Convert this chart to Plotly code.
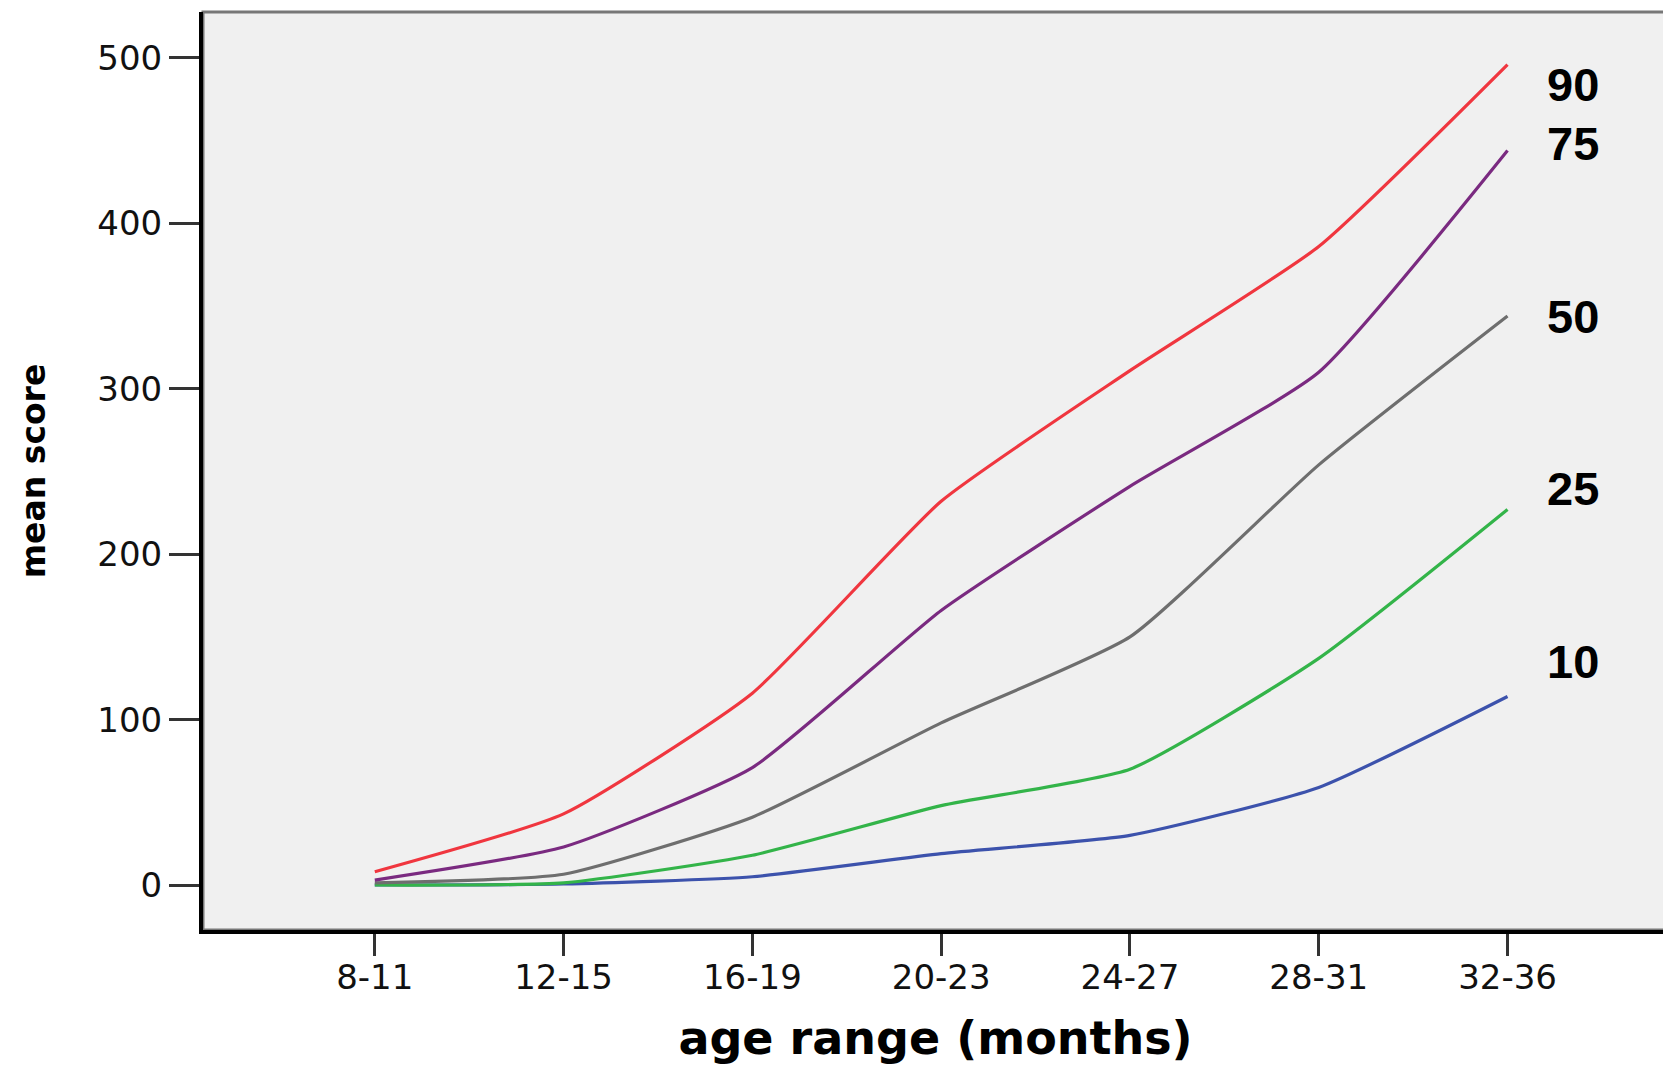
import plotly.graph_objects as go

age_ranges = ["8-11", "12-15", "16-19", "20-23", "24-27", "28-31", "32-36"]
percentiles = ["90", "75", "50", "25", "10"]
p90 = [8, 43, 116, 232, 311, 386, 496]
p75 = [3, 23, 71, 166, 241, 310, 444]
p50 = [1.3, 6.5, 41, 98, 150, 254, 344]
p25 = [0, 1.3, 18, 48, 70, 137, 227]
p10 = [0, 0.6, 5, 19, 30, 59, 114]
y_ticks = [0, 100, 200, 300, 400, 500]

series = [
    ("10", p10, "#3C52AC"),
    ("25", p25, "#33B449"),
    ("50", p50, "#6E6E6E"),
    ("75", p75, "#7A2A80"),
    ("90", p90, "#F0363F"),
]

fig = go.Figure()
for name, vals, color in series:
    fig.add_trace(go.Scatter(
        x=age_ranges, y=vals, mode="lines", name=name,
        line=dict(color=color, width=3.2, shape="spline", smoothing=0.5),
        showlegend=False, hoverinfo="skip",
    ))

# percentile labels at right end of lines
label_y = {"90": 484, "75": 448, "50": 344, "25": 240, "10": 135}
for name in percentiles:
    fig.add_annotation(
        x=0.935, xref="paper", y=label_y[name], yref="y",
        text=name, showarrow=False,
        font=dict(family="Liberation Sans, Arial", size=47, color="black", weight="bold"),
        xanchor="center", yanchor="middle",
    )

# gray border for top and right
fig.add_shape(type="rect", xref="paper", yref="paper", x0=0, y0=0, x1=1, y1=1,
              line=dict(color="#777777", width=3), layer="below")

fig.update_layout(
    width=1671, height=1066,
    margin=dict(l=195, r=11, t=4, b=144),
    paper_bgcolor="white",
    plot_bgcolor="#F0F0F0",
    font=dict(family="DejaVu Sans", color="#111111"),
)
fig.update_xaxes(
    type="category", categoryorder="array", categoryarray=age_ranges,
    range=[-0.91, 6.85],
    showgrid=False, zeroline=False,
    showline=True, linecolor="black", linewidth=4,
    ticks="outside", ticklen=22, tickwidth=3, tickcolor="#333333",
    ticklabelstandoff=-8,
    tickfont=dict(family="DejaVu Sans", size=34, color="#111111"),
    title=dict(text="age range (months)",
               font=dict(family="DejaVu Sans", size=46, color="black", weight="bold"),
               standoff=27),
)
fig.update_yaxes(
    range=[-27.2, 527.8],
    tickvals=y_ticks, ticktext=[str(v) for v in y_ticks],
    showgrid=False, zeroline=False,
    showline=True, linecolor="black", linewidth=4,
    ticks="outside", ticklen=30, tickwidth=3, tickcolor="#333333",
    tickfont=dict(family="DejaVu Sans", size=34, color="#111111"),
    title=dict(text="mean score",
               font=dict(family="DejaVu Sans", size=33, color="black", weight="bold"),
               standoff=43),
)

fig.write_html("out.html")
